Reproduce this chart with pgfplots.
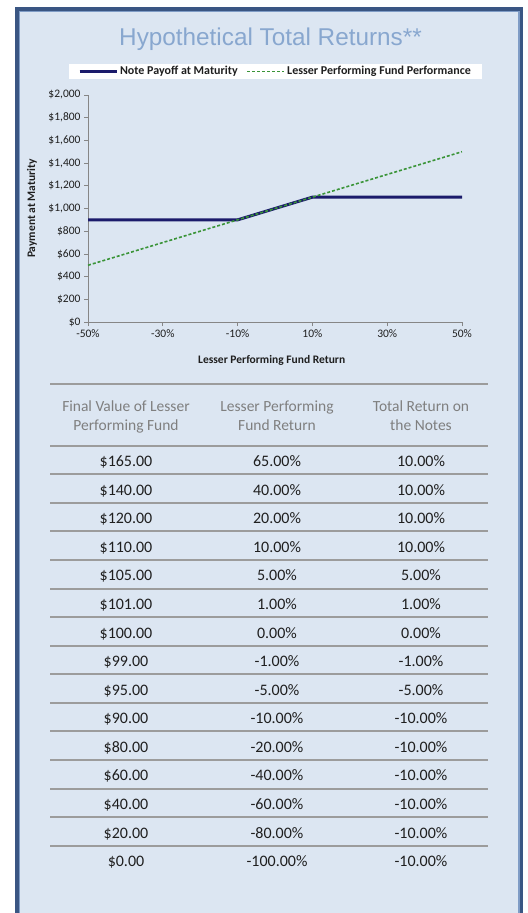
\documentclass[border=0pt]{standalone}
\usepackage{pgfplots}
\pgfplotsset{compat=1.18}
\usepackage{fontspec}
\setmainfont{Carlito}
\newfontfamily\arialfont{Liberation Sans}
\definecolor{bgblue}{HTML}{DCE6F2}
\definecolor{framedark}{HTML}{3A5683}
\definecolor{framelight}{HTML}{7F9CC6}
\definecolor{titleblue}{HTML}{88A7CF}
\definecolor{navyline}{HTML}{1B1B6B}
\definecolor{greenline}{HTML}{3A9438}
\definecolor{axisgray}{HTML}{868686}
\definecolor{rulegray}{HTML}{9C9C9C}
\definecolor{headgray}{HTML}{7F7F7F}
\definecolor{bodytext}{HTML}{1F1F1F}
\newcommand\fs[1]{\fontsize{#1bp}{#1bp}\selectfont}
\begin{document}
\begin{tikzpicture}
\path[use as bounding box] (0,0) rectangle (528bp,-913bp);
\fill[white] (0,0) rectangle (528bp,-913bp);
\begin{scope}[x=1bp,y=-1bp]
  \fill[bgblue] (15,7) rectangle (523,930);
  \draw[framedark, line width=3.5bp] (16.75,930) -- (16.75,8.75) -- (521.25,8.75) -- (521.25,930);
  \draw[framelight, line width=1.5bp] (19.25,930) -- (19.25,11.25) -- (518.75,11.25) -- (518.75,930);
  \node[anchor=base, text=titleblue, font=\arialfont\fs{24.3}, inner sep=0pt] at (270.5,45) {Hypothetical Total Returns**};
\end{scope}
\begin{axis}[
  at={(88bp,-322bp)}, anchor=south west,
  width=374bp, height=227bp, scale only axis,
  xmin=-50, xmax=50, ymin=0, ymax=2000,
  axis x line*=bottom, axis y line*=left,
  axis line style={axisgray, line width=1bp, -},
  xtick={-50,-30,-10,10,30,50},
  xticklabels={-50\%,-30\%,-10\%,10\%,30\%,50\%},
  ytick={0,200,400,600,800,1000,1200,1400,1600,1800,2000},
  yticklabels={\$0,\$200,\$400,\$600,\$800,{\$1,000},{\$1,200},{\$1,400},{\$1,600},{\$1,800},{\$2,000}},
  /pgf/number format/assume math mode=true,
  tick align=outside, major tick length=4bp,
  tick style={axisgray, line width=0.8bp},
  ticklabel style={font=\fs{11.5}, text=bodytext},
  xlabel={Lesser Performing Fund Return},
  ylabel={Payment at Maturity},
  every axis x label/.style={at={(axis description cs:0.4912,-0.1674)}, anchor=center, font=\bfseries\fs{11.5}, text=bodytext},
  every axis y label/.style={at={(axis description cs:-0.1497,0.5)}, anchor=center, rotate=90, font=\bfseries\fs{11.5}, text=bodytext},
  legend style={at={(0.5013,1.1035)}, anchor=center, draw=none, fill=white,
    font=\bfseries\fs{12}, text=bodytext, inner xsep=9bp, inner ysep=1bp,
    /tikz/every even column/.append style={column sep=7bp}},
  legend columns=2,
  legend image code/.code={\draw[#1] (0bp,0bp) -- (37bp,0bp);},
  clip=false,
]
\addplot[navyline, line width=3bp] coordinates {(-50,900) (-10,900) (10,1100) (50,1100)};
\addlegendentry{Note Payoff at Maturity}
\addplot[greenline, line width=1.6bp, dash pattern=on 3bp off 2bp] coordinates {(-50,500) (50,1500)};
\addlegendentry{Lesser Performing Fund Performance}
\end{axis}
\begin{scope}[x=1bp,y=-1bp]
  \draw[rulegray, line width=2bp] (50,384) -- (488,384);
  \begin{scope}[every node/.style={anchor=base, inner sep=0pt, text=headgray, font=\fs{15.5}}]
    \node at (126,411.7) {Final Value of Lesser};
    \node at (126,430.7) {Performing Fund};
    \node at (277,411.7) {Lesser Performing};
    \node at (277,430.7) {Fund Return};
    \node at (421,411.7) {Total Return on};
    \node at (421,430.7) {the Notes};
  \end{scope}
  \draw[rulegray, line width=2bp] (50,445.7) -- (488,445.7);
  \foreach \i in {0,...,13}
    \draw[rulegray, line width=2bp] (50,{474.3+28.57*\i}) -- (488,{474.3+28.57*\i});
  \foreach \a/\b/\c [count=\i from 0] in {
    \$165.00/65.00\%/10.00\%,
    \$140.00/40.00\%/10.00\%,
    \$120.00/20.00\%/10.00\%,
    \$110.00/10.00\%/10.00\%,
    \$105.00/5.00\%/5.00\%,
    \$101.00/1.00\%/1.00\%,
    \$100.00/0.00\%/0.00\%,
    \$99.00/-1.00\%/-1.00\%,
    \$95.00/-5.00\%/-5.00\%,
    \$90.00/-10.00\%/-10.00\%,
    \$80.00/-20.00\%/-10.00\%,
    \$60.00/-40.00\%/-10.00\%,
    \$40.00/-60.00\%/-10.00\%,
    \$20.00/-80.00\%/-10.00\%,
    \$0.00/-100.00\%/-10.00\%}
  {
    \node[anchor=base, inner sep=0pt, text=bodytext, font=\fs{16}] at (126,{466.7+28.57*\i}) {\a};
    \node[anchor=base, inner sep=0pt, text=bodytext, font=\fs{16}] at (277,{466.7+28.57*\i}) {\b};
    \node[anchor=base, inner sep=0pt, text=bodytext, font=\fs{16}] at (421,{466.7+28.57*\i}) {\c};
  }
\end{scope}
\end{tikzpicture}
\end{document}
